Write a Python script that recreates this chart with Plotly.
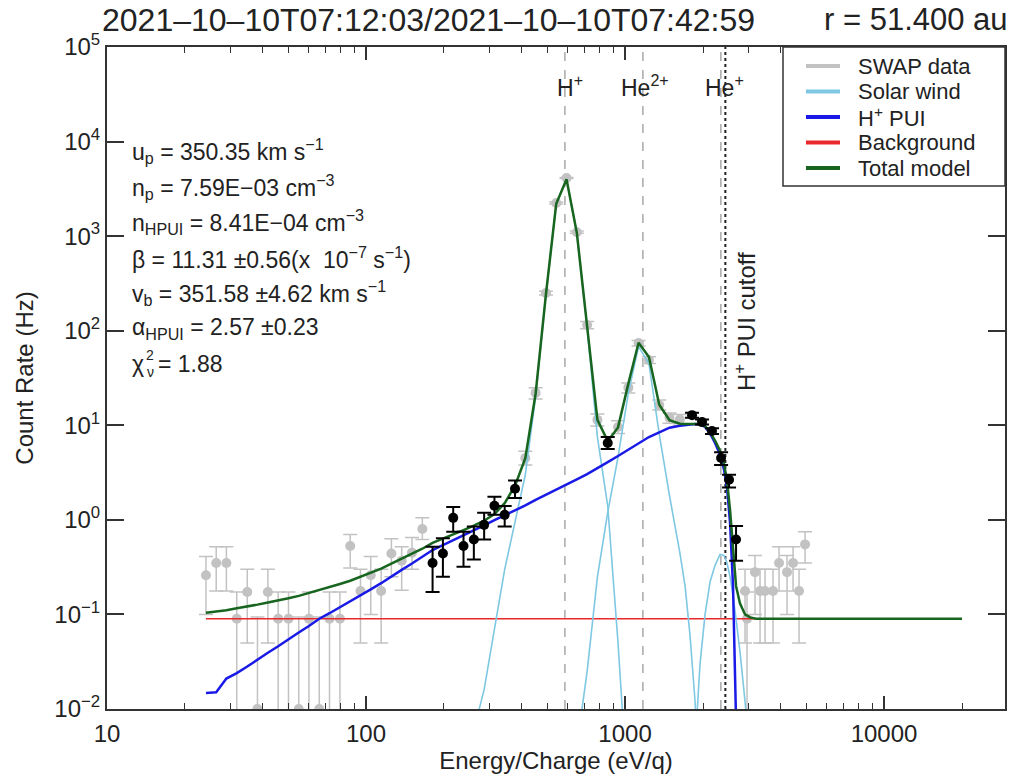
import plotly.graph_objects as go

# ------------------------------------------------------------------ data
model_energy = [24.1, 26.4, 28.9, 31.7, 34.8, 38.1, 41.8, 45.8, 50.2, 55.0,
                60.2, 66.0, 72.3, 79.3, 86.9, 95.2, 104.3, 114.4, 125.3, 137.3,
                150.5, 165.0, 180.7, 198.1, 217.1, 237.9, 260.8, 285.8, 313.2, 343.1,
                376.1, 412.2, 451.7, 495.0, 542.5, 594.5, 651.5, 714.0, 782.4, 857.5,
                939.7, 1030, 1128, 1237, 1356, 1485, 1628, 1705, 1782, 1864,
                1948, 2037, 2129, 2226, 2327, 2411, 2476, 2544, 2612, 2683,
                2780, 2906, 3038, 3205, 3472, 3967, 5662, 9652, 20000]

model_total = [0.104, 0.107, 0.111, 0.116, 0.121, 0.127, 0.134, 0.140, 0.148, 0.157,
               0.168, 0.181, 0.195, 0.210, 0.227, 0.250, 0.275, 0.305, 0.345, 0.387,
               0.437, 0.495, 0.570, 0.630, 0.700, 0.780, 0.870, 0.980, 1.15, 1.5,
               2.3, 4.5, 21.7, 242, 2200, 4000, 1083, 113, 11.4, 6.8,
               9.5, 27.6, 74.7, 52.6, 16.5, 11.3, 10.4, 10.3, 10.35, 10.4,
               10.3, 9.8, 8.5, 6.9, 5.4, 3.9, 2.6, 1.27, 0.45, 0.2,
               0.13, 0.1, 0.093, 0.09, 0.09, 0.09, 0.09, 0.09, 0.09]

model_hpui = [0.0148, 0.0150, 0.021, 0.024, 0.0281, 0.0335, 0.0393, 0.046, 0.0548, 0.0643,
              0.0754, 0.090, 0.103, 0.119, 0.136, 0.159, 0.184, 0.214, 0.254, 0.296,
              0.346, 0.404, 0.48, 0.54, 0.607, 0.69, 0.776, 0.873, 0.993, 1.117,
              1.26, 1.42, 1.63, 1.84, 2.07, 2.37, 2.68, 3.05, 3.56, 4.08,
              4.73, 5.53, 6.56, 7.52, 8.41, 9.44, 9.89, 10.0, 10.2, 10.3,
              10.2, 9.6, 8.2, 6.5, 4.9, 3.4, 2.2, 0.93, 0.2, 0.015,
              0.0001, None, None, None, None, None, None, None, None]

sw_hplus = [None] * 26 + [0.006, 0.016, 0.07, 0.3,
                          0.95, 3.0, 20, 240, 2200, 4000, 1080, 110, 7.5, 1.4,
                          0.05, 0.001] + [None] * 27

sw_he2 = [None] * 35 + [0.0001, 0.004, 0.025, 0.25, 1.2,
                        4.6, 22, 68, 45, 8, 1.8, 0.45, 0.2, 0.06, 0.012,
                        0.001] + [None] * 18

sw_heplus = [None] * 49 + [0.004,
                           0.03, 0.1, 0.22, 0.33, 0.43, 0.42, 0.35, 0.25, 0.16, 0.09,
                           0.04, 0.012, 0.003] + [None] * 6

bg_energy = [24.1, 20000]
bg_rate = [0.09, 0.09]

# SWAP data not used in the fit (grey)
gray_energy = [24.1, 26.4, 28.9, 31.7, 34.8, 38.1, 41.8, 45.8, 50.2, 55.0, 60.2,
               66.0, 72.3, 79.3, 86.9, 95.2, 104.3, 114.4, 125.3, 137.3, 150.5, 165.0,
               412.2, 451.7, 495.0, 542.5, 594.5, 651.5, 714.0, 782.4,
               939.7, 1030, 1128, 1237, 1356, 1485, 1628,
               2906, 2958, 3176, 3321, 3472, 3727, 3932, 4222, 4454, 4697, 4955]
gray_rate = [0.26, 0.35, 0.35, 0.09, 0.173, 0.01, 0.173, 0.09, 0.09, 0.01, 0.09,
             0.01, 0.09, 0.09, 0.53, 0.177, 0.26, 0.177, 0.44, 0.37, 0.45, 0.80,
             4.5, 22, 250, 2240, 4120, 1100, 115, 11.4,
             9.6, 25, 74, 49, 16.4, 12, 11.5,
             0.177, 0.09, 0.28, 0.177, 0.177, 0.177, 0.35, 0.28, 0.35, 0.177, 0.55]
gray_lo = [0.10, 0.177, 0.177, 0.001, 0.05, 0.001, 0.05, 0.001, 0.001, 0.001, 0.001,
           0.001, 0.001, 0.001, 0.31, 0.05, 0.10, 0.05, 0.25, 0.18, 0.30, 0.62,
           3.8, 19, 238, 2190, 4060, 1070, 105, 9.8,
           8.2, 22, 69, 45, 14.5, 10.5, 10,
           0.05, 0.001, 0.10, 0.05, 0.05, 0.05, 0.177, 0.10, 0.177, 0.05, 0.35]
gray_hi = [0.41, 0.52, 0.52, 0.173, 0.30, 0.094, 0.30, 0.173, 0.173, 0.094, 0.173,
           0.094, 0.173, 0.173, 0.70, 0.30, 0.41, 0.30, 0.63, 0.52, 0.65, 1.05,
           5.3, 25, 262, 2290, 4180, 1130, 125, 13.2,
           11.2, 28, 79, 53, 18.5, 13.5, 13,
           0.30, 0.173, 0.42, 0.30, 0.30, 0.30, 0.52, 0.42, 0.52, 0.30, 0.75]

# SWAP data used in the fit (black)
fit_energy = [180.7, 198.1, 217.1, 237.9, 260.8, 285.8, 313.2, 343.1, 376.1,
              857.5, 1814, 1983, 2167, 2349, 2521, 2683]
fit_rate = [0.35, 0.44, 1.05, 0.53, 0.62, 0.885, 1.41, 1.13, 2.13,
            6.5, 12.8, 10.8, 8.7, 4.5, 2.65, 0.62]
fit_lo = [0.173, 0.25, 0.75, 0.32, 0.38, 0.62, 1.13, 0.85, 1.7,
          5.6, 12.0, 10.2, 8.1, 3.8, 2.2, 0.37]
fit_hi = [0.52, 0.64, 1.37, 0.75, 0.85, 1.19, 1.76, 1.40, 2.6,
          7.5, 13.6, 11.5, 9.3, 5.2, 3.0, 0.86]

ion_names = ["H<sup>+</sup>", "He<sup>2+</sup>", "He<sup>+</sup>"]
ion_energy = [586, 1172, 2344]
cutoff_energy = 2440

x_tick_vals = [10, 100, 1000, 10000]
x_tick_text = ["10", "100", "1000", "10000"]
y_tick_vals = [1e-2, 1e-1, 1e0, 1e1, 1e2, 1e3, 1e4, 1e5]
y_tick_text = ["10<sup>−2</sup>", "10<sup>−1</sup>", "10<sup>0</sup>", "10<sup>1</sup>",
               "10<sup>2</sup>", "10<sup>3</sup>", "10<sup>4</sup>", "10<sup>5</sup>"]

param_lines = [
    "u<sub>p</sub> = 350.35 km s<sup>−1</sup>",
    "n<sub>p</sub> = 7.59E−03 cm<sup>−3</sup>",
    "n<sub>HPUI</sub> = 8.41E−04 cm<sup>−3</sup>",
    "β = 11.31 ±0.56(x \u00a010<sup>−7</sup> s<sup>−1</sup>)",
    "v<sub>b</sub> = 351.58 ±4.62 km s<sup>−1</sup>",
    "α<sub>HPUI</sub> = 2.57 ±0.23",
]
chi_symbol, chi_sub, chi_sup, chi_value = "χ", "ν", "2", "= 1.88"

legend_names = ["SWAP data", "Solar wind", "H<sup>+</sup> PUI", "Background", "Total model"]

title_left = "2021–10–10T07:12:03/2021–10–10T07:42:59"
title_right = "r = 51.400 au"

# ------------------------------------------------------------------ style
FONT = "Liberation Sans, Arial, Helvetica, sans-serif"
C_GRAY = "#c2c2c2"
C_SW = "#7ec8e3"
C_PUI = "#1a1ae6"
C_BG = "#e8282a"
C_TOT = "#17651f"
AX = "#333333"

PL, PR, PT, PB = 107, 1005, 47, 709


def px_x(p):
    return (p - PL) / (PR - PL)


def px_y(p):
    return (PB - p) / (PB - PT)


fig = go.Figure()

# reference lines
for e in ion_energy:
    fig.add_trace(go.Scatter(x=[e, e], y=[1e-2, 1e5], mode="lines",
                             line=dict(color="#a9a9a9", width=1.5, dash="dash"),
                             hoverinfo="skip"))
fig.add_trace(go.Scatter(x=[cutoff_energy, cutoff_energy], y=[1e-2, 1e5], mode="lines",
                         line=dict(color="#222222", width=2, dash="dot"), hoverinfo="skip"))

# grey data
fig.add_trace(go.Scatter(
    x=gray_energy, y=gray_rate, mode="markers", name="SWAP data",
    marker=dict(color=C_GRAY, size=10),
    error_y=dict(type="data", symmetric=False,
                 array=[h - r for h, r in zip(gray_hi, gray_rate)],
                 arrayminus=[r - l for r, l in zip(gray_rate, gray_lo)],
                 color=C_GRAY, thickness=1.5, width=7)))

# model components
fig.add_trace(go.Scatter(x=bg_energy, y=bg_rate, mode="lines", name="Background",
                         line=dict(color=C_BG, width=1.6)))
for sw in (sw_hplus, sw_he2, sw_heplus):
    fig.add_trace(go.Scatter(x=model_energy, y=sw, mode="lines", name="Solar wind",
                             line=dict(color=C_SW, width=1.6), connectgaps=False))
fig.add_trace(go.Scatter(x=model_energy, y=model_hpui, mode="lines", name="H+ PUI",
                         line=dict(color=C_PUI, width=2.5)))
fig.add_trace(go.Scatter(x=model_energy, y=model_total, mode="lines", name="Total model",
                         line=dict(color=C_TOT, width=2.5)))

# black data
fig.add_trace(go.Scatter(
    x=fit_energy, y=fit_rate, mode="markers", name="SWAP data (fit)",
    marker=dict(color="black", size=10),
    error_y=dict(type="data", symmetric=False,
                 array=[h - r for h, r in zip(fit_hi, fit_rate)],
                 arrayminus=[r - l for r, l in zip(fit_rate, fit_lo)],
                 color="black", thickness=2, width=7)))

annotations = []
shapes = []

# ion labels
for name, xc in zip(ion_names, [570, 645, 724]):
    annotations.append(dict(x=px_x(xc), y=px_y(86), xref="paper", yref="paper",
                            text=name, showarrow=False, font=dict(size=23),
                            xanchor="center", yanchor="middle"))
annotations.append(dict(x=px_x(745), y=px_y(322), xref="paper", yref="paper",
                        text="H<sup>+</sup> PUI cutoff", textangle=-90, showarrow=False,
                        font=dict(size=24), xanchor="center", yanchor="middle"))

# fit parameter text
for i, t in enumerate(param_lines):
    annotations.append(dict(x=px_x(130), y=px_y(151 + 35.5 * i), xref="paper", yref="paper",
                            text=t, showarrow=False, font=dict(size=23),
                            xanchor="left", yanchor="middle"))
chi_y = 151 + 35.5 * 6
annotations.append(dict(x=px_x(130), y=px_y(chi_y), xref="paper", yref="paper",
                        text=chi_symbol, showarrow=False, font=dict(size=23),
                        xanchor="left", yanchor="middle"))
annotations.append(dict(x=px_x(150), y=px_y(chi_y + 8), xref="paper", yref="paper",
                        text=chi_sub, showarrow=False, font=dict(size=14),
                        xanchor="center", yanchor="middle"))
annotations.append(dict(x=px_x(150), y=px_y(chi_y - 9), xref="paper", yref="paper",
                        text=chi_sup, showarrow=False, font=dict(size=14),
                        xanchor="center", yanchor="middle"))
annotations.append(dict(x=px_x(156), y=px_y(chi_y), xref="paper", yref="paper",
                        text=chi_value, showarrow=False, font=dict(size=23),
                        xanchor="left", yanchor="middle"))

# title
annotations.append(dict(x=px_x(100), y=px_y(20), xref="paper", yref="paper",
                        text=title_left, showarrow=False, font=dict(size=32),
                        xanchor="left", yanchor="middle"))
annotations.append(dict(x=px_x(1010), y=px_y(20), xref="paper", yref="paper",
                        text=title_right, showarrow=False, font=dict(size=31),
                        xanchor="right", yanchor="middle"))

# legend (drawn manually)
shapes.append(dict(type="rect", xref="paper", yref="paper",
                   x0=px_x(783), x1=1.0, y0=px_y(186), y1=1.0,
                   line=dict(color=AX, width=1.5), fillcolor="white", layer="above"))
legend_colors = [C_GRAY, C_SW, C_PUI, C_BG, C_TOT]
for i, (nm, col) in enumerate(zip(legend_names, legend_colors)):
    yy = px_y(66 + 25.5 * i)
    shapes.append(dict(type="line", xref="paper", yref="paper",
                       x0=px_x(806), x1=px_x(840), y0=yy, y1=yy,
                       line=dict(color=col, width=4), layer="above"))
    annotations.append(dict(x=px_x(856), y=yy, xref="paper", yref="paper",
                            text=nm, showarrow=False, font=dict(size=22),
                            xanchor="left", yanchor="middle"))

fig.update_layout(
    width=1018, height=781,
    margin=dict(l=PL, r=1018 - PR, t=PT, b=781 - PB),
    plot_bgcolor="white", paper_bgcolor="white",
    showlegend=False,
    font=dict(family=FONT, color="#222222"),
    annotations=annotations, shapes=shapes,
)
fig.update_xaxes(
    type="log", range=[1, 4.467],
    tickmode="array", tickvals=x_tick_vals, ticktext=x_tick_text,
    ticks="inside", ticklen=13, tickwidth=1.5, tickcolor=AX,
    showline=True, linecolor=AX, linewidth=2, mirror="ticks",
    showgrid=False, zeroline=False,
    minor=dict(ticks="inside", ticklen=6, tickwidth=1.2, tickcolor=AX, dtick="D1", showgrid=False),
    tickfont=dict(size=24), ticklabelstandoff=2,
    title=dict(text="Energy/Charge (eV/q)", font=dict(size=24), standoff=0),
)
fig.update_yaxes(
    type="log", range=[-2, 5],
    tickmode="array", tickvals=y_tick_vals, ticktext=y_tick_text,
    ticks="inside", ticklen=17, tickwidth=1.5, tickcolor=AX,
    showline=True, linecolor=AX, linewidth=2, mirror="ticks",
    showgrid=False, zeroline=False,
    tickfont=dict(size=24),
    title=dict(text="Count Rate (Hz)", font=dict(size=24), standoff=14),
)

fig.write_html("out.html", config={"displayModeBar": False},
               post_script="document.body.style.margin='0';document.body.style.overflow='hidden';")
